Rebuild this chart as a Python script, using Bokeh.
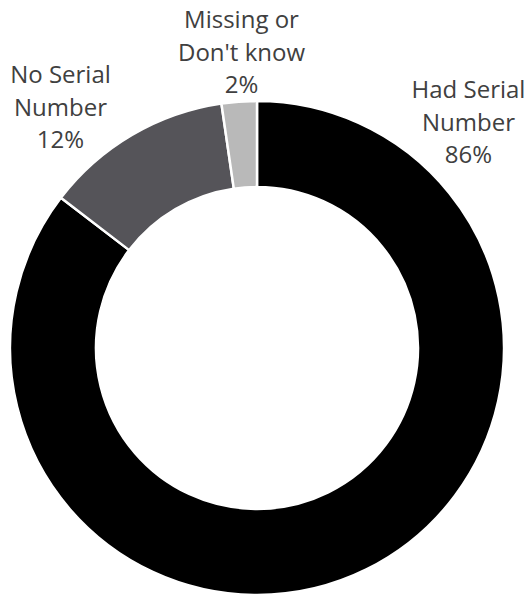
import math
from bokeh.plotting import figure
from bokeh.models import Range1d, ColumnDataSource
from bokeh.core.properties import value
from bokeh.embed import file_html
from bokeh.resources import INLINE

# ---- data ----
categories = ["Had Serial Number", "No Serial Number", "Missing or Don't know"]
shares = [85.4, 12.3, 2.3]
pct_labels = ["86%", "12%", "2%"]
label_lines = [["Had Serial", "Number"], ["No Serial", "Number"], ["Missing or", "Don't know"]]
colors = ["#000000", "#555459", "#b9b9b9"]

# ---- layout (pixel-like coordinates, y up) ----
W, H = 528, 597
cx, cy = 256.5, 249.5
r_out, r_in = 247, 161
label_pos = [(468, 509), (60, 524), (241, 579)]  # baseline of first line
line_gap = 32.5

total = sum(shares)
starts, ends = [], []
cum = 0.0
for s in shares:
    starts.append(math.pi / 2 - cum / total * 2 * math.pi)
    cum += s
    ends.append(math.pi / 2 - cum / total * 2 * math.pi)

src = ColumnDataSource(dict(cat=categories, start=starts, end=ends, color=colors))

p = figure(width=W, height=H, output_backend="svg", toolbar_location=None,
           x_range=Range1d(0, W), y_range=Range1d(0, H),
           x_axis_type=None, y_axis_type=None, min_border=0,
           outline_line_color=None)
p.grid.visible = False
p.background_fill_color = "white"

p.annular_wedge(x=cx, y=cy, inner_radius=r_in, outer_radius=r_out,
                start_angle="start", end_angle="end", direction="clock",
                fill_color="color", line_color="white", line_width=2.5,
                source=src)

xs, ys, txt = [], [], []
for (lx, ly), lines, pl in zip(label_pos, label_lines, pct_labels):
    for i, t in enumerate(lines + [pl]):
        xs.append(lx)
        ys.append(ly - i * line_gap)
        txt.append(t)

p.text(x=xs, y=ys, text=txt, text_align="center", text_baseline="alphabetic",
       text_font=value("Open Sans"), text_font_size="24px", text_color="#404040")

open("out.html", "w").write(file_html(p, INLINE))
